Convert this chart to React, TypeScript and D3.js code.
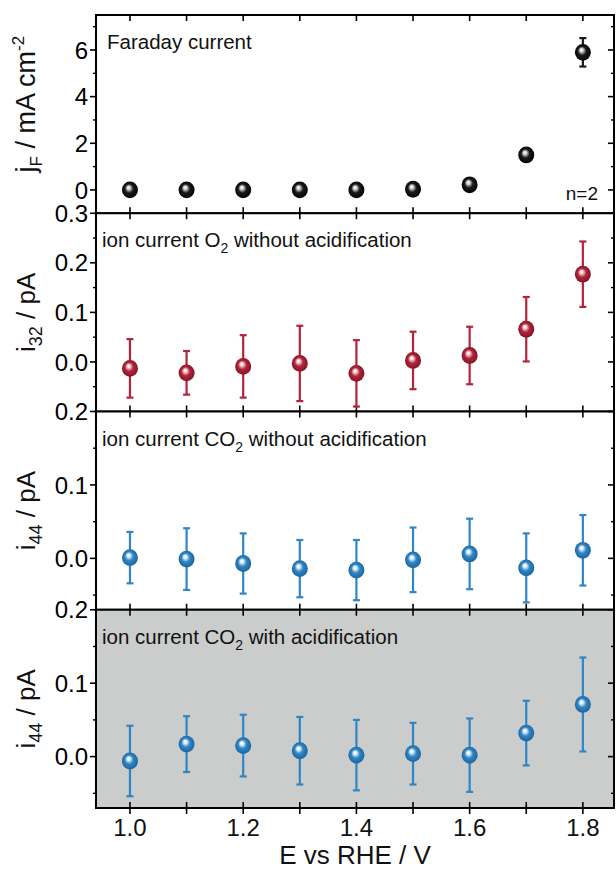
import React, { useEffect, useRef } from 'react';
import * as d3 from 'd3';

// potentials (V vs RHE)
const potentials = [1.0, 1.1, 1.2, 1.3, 1.4, 1.5, 1.6, 1.7, 1.8];

// Faraday current, mA cm-2
const faradayMean = [0.0, 0.0, 0.0, 0.0, 0.0, 0.03, 0.22, 1.5, 5.9];
const faradayErr = [0.02, 0.02, 0.02, 0.02, 0.02, 0.03, 0.06, 0.1, 0.61];

// ion current m/z 32 (O2), pA
const o2Mean = [-0.013, -0.022, -0.009, -0.003, -0.023, 0.003, 0.013, 0.066, 0.177];
const o2Err = [0.059, 0.044, 0.063, 0.076, 0.067, 0.058, 0.058, 0.065, 0.066];

// ion current m/z 44 (CO2) without acidification, pA
const co2Mean = [0.001, -0.001, -0.007, -0.014, -0.016, -0.002, 0.006, -0.013, 0.011];
const co2Err = [0.035, 0.042, 0.041, 0.039, 0.041, 0.044, 0.048, 0.047, 0.048];

// ion current m/z 44 (CO2) with acidification, pA
const co2AcidMean = [-0.006, 0.017, 0.015, 0.008, 0.002, 0.004, 0.002, 0.032, 0.071];
const co2AcidErr = [0.048, 0.038, 0.042, 0.046, 0.048, 0.042, 0.05, 0.044, 0.064];

const xTickLabels = [1.0, 1.2, 1.4, 1.6, 1.8];

const FONT = '"Liberation Sans", Arial, Helvetica, sans-serif';

interface Panel {
  key: string;
  mean: number[];
  err: number[];
  domain: [number, number];
  ticks: number[];
  minor: number[];
  fmt: (v: number) => string;
  color: string;
  light: string;
  dark: string;
  bg: string;
  title: [string, string, string]; // main, sub, after-sub (annotation)
  yLabel: 'jF' | 'i32' | 'i44';
}

const panels: Panel[] = [
  {
    key: 'far', mean: faradayMean, err: faradayErr, domain: [-1, 7.5],
    ticks: [0, 2, 4, 6], minor: [1, 3, 5, 7], fmt: d3.format('d'),
    color: '#1a1a1a', light: '#d8d8d8', dark: '#000000', bg: 'white',
    title: ['Faraday current', '', ''], yLabel: 'jF',
  },
  {
    key: 'o2', mean: o2Mean, err: o2Err, domain: [-0.1, 0.3],
    ticks: [0, 0.1, 0.2, 0.3], minor: [-0.05, 0.05, 0.15, 0.25], fmt: d3.format('.1f'),
    color: '#b3243a', light: '#f4d8dc', dark: '#7a1224', bg: 'white',
    title: ['ion current O', '2', ' without acidification'], yLabel: 'i32',
  },
  {
    key: 'co2', mean: co2Mean, err: co2Err, domain: [-0.07, 0.2],
    ticks: [0, 0.1, 0.2], minor: [-0.05, 0.05, 0.15], fmt: d3.format('.1f'),
    color: '#2f86c6', light: '#e4f1fb', dark: '#1a5f97', bg: 'white',
    title: ['ion current CO', '2', ' without acidification'], yLabel: 'i44',
  },
  {
    key: 'co2a', mean: co2AcidMean, err: co2AcidErr, domain: [-0.07, 0.2],
    ticks: [0, 0.1, 0.2], minor: [-0.05, 0.05, 0.15], fmt: d3.format('.1f'),
    color: '#2f86c6', light: '#e4f1fb', dark: '#1a5f97', bg: '#cbcccc',
    title: ['ion current CO', '2', ' with acidification'], yLabel: 'i44',
  },
];

export default function App() {
  const svgRef = useRef<SVGSVGElement>(null);

  useEffect(() => {
    document.body.style.margin = '0';
    document.body.style.overflow = 'hidden';
    if (!svgRef.current) return;
    const svg = d3.select(svgRef.current);
    svg.selectAll('*').remove();

    const width = 616;
    const height = 870;
    const left = 96;
    const right = 614;
    const top = 15;
    const bottom = 808;
    const ph = (bottom - top) / panels.length;

    svg.attr('width', width).attr('height', height);

    const x = d3.scaleLinear().domain([0.94, 1.855]).range([left, right]);
    const xMinor = d3.range(1.0, 1.85, 0.1);

    // gradients for the ball markers
    const defs = svg.append('defs');
    panels.forEach(p => {
      const g = defs.append('radialGradient')
        .attr('id', `ball-${p.key}`)
        .attr('cx', '50%').attr('cy', '50%').attr('r', '55%')
        .attr('fx', '40%').attr('fy', '34%');
      g.append('stop').attr('offset', '0%').attr('stop-color', '#ffffff');
      g.append('stop').attr('offset', '18%').attr('stop-color', p.light);
      g.append('stop').attr('offset', '48%').attr('stop-color', p.color);
      g.append('stop').attr('offset', '100%').attr('stop-color', p.dark);
    });

    panels.forEach((p, i) => {
      const y0 = top + i * ph;
      const y1 = y0 + ph;
      const y = d3.scaleLinear().domain(p.domain).range([y1, y0]);
      const g = svg.append('g');

      // background
      g.append('rect')
        .attr('x', left).attr('y', y0)
        .attr('width', right - left).attr('height', ph)
        .attr('fill', p.bg);

      // x ticks (top inward, bottom both ways)
      xMinor.forEach(v => {
        const xv = x(v);
        g.append('line').attr('x1', xv).attr('x2', xv).attr('y1', y0).attr('y2', y0 + 6)
          .attr('stroke', '#000').attr('stroke-width', 1.6);
        g.append('line').attr('x1', xv).attr('x2', xv).attr('y1', y1 - 6).attr('y2', y1 + 6)
          .attr('stroke', '#000').attr('stroke-width', 1.6);
      });

      // y ticks
      p.ticks.forEach(v => {
        const yv = y(v);
        g.append('line').attr('x1', left - 6).attr('x2', left).attr('y1', yv).attr('y2', yv)
          .attr('stroke', '#000').attr('stroke-width', 1.6);
        g.append('line').attr('x1', right - 6).attr('x2', right).attr('y1', yv).attr('y2', yv)
          .attr('stroke', '#000').attr('stroke-width', 1.6);
        g.append('text')
          .attr('x', left - 8).attr('y', yv).attr('dy', '0.36em')
          .attr('text-anchor', 'end')
          .attr('font-family', FONT).attr('font-size', 24)
          .text(p.fmt(v));
      });
      p.minor.forEach(v => {
        const yv = y(v);
        if (yv < y0 || yv > y1) return;
        g.append('line').attr('x1', left - 3).attr('x2', left).attr('y1', yv).attr('y2', yv)
          .attr('stroke', '#000').attr('stroke-width', 1.4);
        g.append('line').attr('x1', right - 3).attr('x2', right).attr('y1', yv).attr('y2', yv)
          .attr('stroke', '#000').attr('stroke-width', 1.4);
      });

      // frame
      g.append('rect')
        .attr('x', left).attr('y', y0)
        .attr('width', right - left).attr('height', ph)
        .attr('fill', 'none').attr('stroke', '#000').attr('stroke-width', 2);

      // annotation
      const ann = g.append('text')
        .attr('x', i === 0 ? 107 : 102).attr('y', y0 + 34)
        .attr('font-family', FONT).attr('font-size', 20.5).attr('fill', '#111');
      ann.append('tspan').text(p.title[0]);
      if (p.title[1]) {
        ann.append('tspan').attr('dy', 6).attr('font-size', 14).text(p.title[1]);
        ann.append('tspan').attr('dy', -6).text(p.title[2]);
      }
      if (i === 0) {
        g.append('text')
          .attr('x', 598).attr('y', y1 - 13)
          .attr('text-anchor', 'end')
          .attr('font-family', FONT).attr('font-size', 19).attr('fill', '#111')
          .text('n=2');
      }

      // y axis title
      const yc = i === 0 ? (y0 + y1) / 2 - 10 : (y0 + y1) / 2;
      const yl = g.append('text')
        .attr('transform', `translate(35,${yc}) rotate(-90)`)
        .attr('text-anchor', 'middle')
        .attr('font-family', FONT).attr('font-size', i === 0 ? 27 : 26).attr('fill', '#111');
      if (p.yLabel === 'jF') {
        yl.append('tspan').text('j');
        yl.append('tspan').attr('dy', 7).attr('font-size', 17).text('F');
        yl.append('tspan').attr('dy', -7).text(' / mA cm');
        yl.append('tspan').attr('dy', -11).attr('font-size', 17).text('-2');
      } else {
        yl.append('tspan').text('i');
        yl.append('tspan').attr('dy', 7).attr('font-size', 18).text(p.yLabel === 'i32' ? '32' : '44');
        yl.append('tspan').attr('dy', -7).text(' / pA');
      }

      // error bars
      const pts = potentials.map((v, k) => ({ x: v, m: p.mean[k], e: p.err[k] }));
      const eb = g.append('g').attr('stroke', p.color).attr('stroke-width', 2.2);
      pts.forEach(d => {
        const xv = x(d.x);
        const yt = y(d.m + d.e);
        const yb = y(d.m - d.e);
        eb.append('line').attr('x1', xv).attr('x2', xv).attr('y1', yt).attr('y2', yb);
        eb.append('line').attr('x1', xv - 3.5).attr('x2', xv + 3.5).attr('y1', yt).attr('y2', yt);
        eb.append('line').attr('x1', xv - 3.5).attr('x2', xv + 3.5).attr('y1', yb).attr('y2', yb);
      });

      // ball markers
      g.selectAll('.ball')
        .data(pts)
        .enter()
        .append('ellipse')
        .attr('class', 'ball')
        .attr('cx', d => x(d.x))
        .attr('cy', d => y(d.m))
        .attr('rx', 8)
        .attr('ry', 8.4)
        .attr('fill', `url(#ball-${p.key})`);
    });

    // x tick labels
    xTickLabels.forEach(v => {
      svg.append('text')
        .attr('x', x(v)).attr('y', 836)
        .attr('text-anchor', 'middle')
        .attr('font-family', FONT).attr('font-size', 24).attr('fill', '#111')
        .text(d3.format('.1f')(v));
    });

    // x axis title
    svg.append('text')
      .attr('x', (left + right) / 2).attr('y', 864)
      .attr('text-anchor', 'middle')
      .attr('font-family', FONT).attr('font-size', 26).attr('fill', '#111')
      .text('E vs RHE / V');
  }, []);

  return (
    <div style={{ position: 'absolute', left: 0, top: 0, width: 616, height: 870, background: 'white' }}>
      <svg ref={svgRef} style={{ display: 'block' }} />
    </div>
  );
}
